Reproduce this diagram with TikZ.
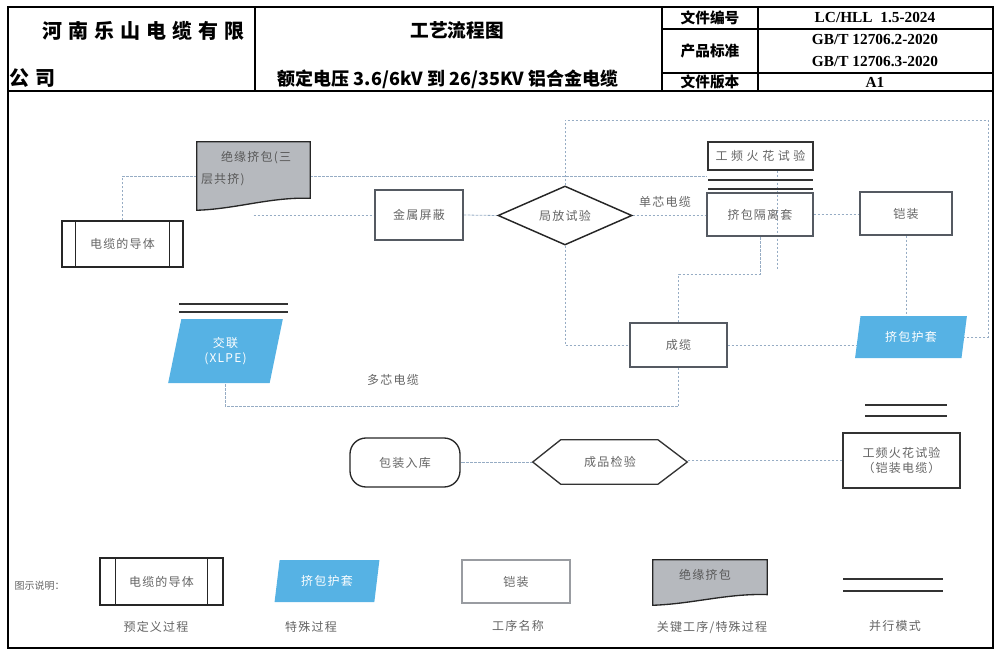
\documentclass[tikz,border=0pt]{standalone}
\usepackage{fontspec}
\setmainfont{Noto Sans CJK SC}
\newfontfamily\hdfont[LetterSpace=30]{Noto Sans CJK SC}
\newfontfamily\bodyfont[LetterSpace=10]{Noto Sans CJK SC}
\newfontfamily\spkfont[LetterSpace=30]{Noto Sans CJK SC}
\newfontfamily\numfont{Liberation Serif}
\usetikzlibrary{shapes.geometric,backgrounds}
\definecolor{skyfill}{RGB}{86,178,228}
\definecolor{docgray}{RGB}{182,185,190}
\definecolor{connblue}{RGB}{150,172,196}
\definecolor{boxline}{RGB}{85,90,98}
\definecolor{txtgray}{RGB}{100,100,100}
\begin{document}
\begin{tikzpicture}[x=0.75pt,y=-0.75pt,
  every node/.style={text=txtgray, font=\bodyfont\fontsize{9}{11}\selectfont, inner sep=1pt},
  procbox/.style={draw=boxline, line width=.9pt},
  predef/.style={draw=black!85, line width=1pt},
  special/.style={trapezium, trapezium left angle=76, trapezium right angle=104,
    trapezium stretches=true, fill=skyfill, text=white, inner sep=0pt},
  conn/.style={draw=connblue, line width=.6pt, dash pattern=on 2pt off 1pt},
  twin/.style={draw=black!80, line width=1.1pt},
  hd/.style={text=black, font=\bfseries\fontsize{11}{13}\selectfont}]
\useasboundingbox (0,0) rectangle (997,653);

% frame and header
\draw[line width=1pt] (8,7) rectangle (993,648);
\draw[line width=1pt] (8,91) -- (993,91);
\draw[line width=.8pt] (255,7) -- (255,91) (662,7) -- (662,91) (758,7) -- (758,91)
  (662,29) -- (993,29) (662,73) -- (993,73);
\node[hd, font=\hdfont\bfseries\fontsize{15}{18}\selectfont, anchor=west] (corp1) at (41,31) {河南乐山电缆有限};
\node[hd, font=\hdfont\bfseries\fontsize{15}{18}\selectfont, anchor=west] (corp2) at (8,78) {公司};
\node[hd, font=\bfseries\fontsize{14}{16}\selectfont] (ttl) at (457,30) {工艺流程图};
\node[hd, font=\bfseries\fontsize{13.5}{16}\selectfont] (sub) at (448,79) {额定电压 3.6/6kV 到 26/35KV 铝合金电缆};
\node[hd] (k1) at (710,18) {文件编号};
\node[hd] (k2) at (710,51) {产品标准};
\node[hd] (k3) at (710,82) {文件版本};
\node[hd, font=\numfont\bfseries\fontsize{11.5}{13}\selectfont] (v1) at (875,18) {LC/HLL\ \ 1.5-2024};
\node[hd, font=\numfont\bfseries\fontsize{11.5}{13}\selectfont] (v2) at (875,40) {GB/T 12706.2-2020};
\node[hd, font=\numfont\bfseries\fontsize{11.5}{13}\selectfont] (v3) at (875,62) {GB/T 12706.3-2020};
\node[hd, font=\numfont\bfseries\fontsize{11.5}{13}\selectfont] (v4) at (875,82) {A1};

% flow
\node[predef, minimum width=90.75pt, minimum height=34.5pt] (dt) at (122.5,244) {电缆的导体};
\draw[predef] ([xshift=10.5pt]dt.north west) -- ([xshift=10.5pt]dt.south west);
\draw[predef] ([xshift=-10.5pt]dt.north east) -- ([xshift=-10.5pt]dt.south east);
\node[minimum width=84.75pt, minimum height=51pt, inner sep=0pt] (jy) at (253.5,176) {};
\node[anchor=north west, align=left, text=black!65, font=\bodyfont\fontsize{9}{16.5}\selectfont]
  (jytxt) at ([xshift=2pt,yshift=-6pt]jy.north west) {\hspace{15pt}绝缘挤包(三\\层共挤)};
\node[procbox, minimum width=66pt, minimum height=37.5pt] (jspb) at (419,215) {金属屏蔽};
\node[diamond, aspect=2.27, draw=black!85, line width=1.1pt, minimum width=100.5pt,
  minimum height=44.25pt, inner sep=0pt] (jf) at (565,215.5) {局放试验};
\node (dx) at (665,202) {单芯电缆};
\node[procbox, draw=black!80, minimum width=78.75pt, minimum height=21pt,
  font=\spkfont\fontsize{9}{11}\selectfont] (gp1) at (760.5,156) {工频火花试验};
\draw[twin] (708,180) -- (813,180) (708,189) -- (813,189);
\node[procbox, minimum width=79.5pt, minimum height=32.25pt] (jbg) at (760,214.5) {挤包隔离套};
\node[procbox, minimum width=69pt, minimum height=32.25pt] (kz) at (906,213.5) {铠装};
\draw[twin] (179,304) -- (288,304) (179,312) -- (288,312);
\node[special, trapezium left angle=77, trapezium right angle=103, minimum width=86.25pt,
  minimum height=48pt, align=center] (jl) at (225.5,351) {交联\\(XLPE)};
\node[procbox, minimum width=72.75pt, minimum height=33pt] (cl) at (678.5,345) {成缆};
\node[special, minimum width=84pt, minimum height=31.5pt] (hut) at (911,337) {挤包护套};
\node (dd) at (393,380) {多芯电缆};
\draw[twin] (865,405) -- (947,405) (865,416) -- (947,416);
\node[procbox, draw=black!80, minimum width=87.75pt, minimum height=41.25pt, align=center]
  (gpk) at (901.5,460.5) {工频火花试验\\（铠装电缆）};
\node[minimum width=115.5pt, minimum height=33pt] (cpjy) at (610,462) {成品检验};
\draw[draw=black!80, line width=1pt] (cpjy.west) -- ([xshift=21pt]cpjy.north west)
  -- ([xshift=-22pt]cpjy.north east) -- (cpjy.east) -- ([xshift=-22pt]cpjy.south east)
  -- ([xshift=21pt]cpjy.south west) -- cycle;
\node[draw=black!85, line width=1pt, rounded corners=12pt, minimum width=82.5pt,
  minimum height=36.75pt] (bz) at (405,462.5) {包装入库};

% legend
\node[anchor=west, font=\fontsize{7.5}{9}\selectfont] (lgt) at (13,586) {图示说明：};
\node[predef, minimum width=92.25pt, minimum height=35.25pt] (lgdt) at (161.5,581.5) {电缆的导体};
\draw[predef] ([xshift=12pt]lgdt.north west) -- ([xshift=12pt]lgdt.south west);
\draw[predef] ([xshift=-12pt]lgdt.north east) -- ([xshift=-12pt]lgdt.south east);
\node (lgdtl) at (156,627) {预定义过程};
\node[special, minimum width=78.75pt, minimum height=31.5pt] (lgsp) at (327,581) {挤包护套};
\node (lgspl) at (311,627) {特殊过程};
\node[procbox, draw=boxline!60, minimum width=81pt, minimum height=32.25pt] (lgbox) at (516,581.5) {铠装};
\node (lgboxl) at (518,626) {工序名称};
\node[minimum width=85.5pt, minimum height=33.75pt, inner sep=0pt] (lgdoc) at (710,582.5) {};
\node[text=black!65] (lgdoct) at (705,575) {绝缘挤包};
\node (lgdocl) at (712,627) {关键工序/特殊过程};
\draw[twin] (843,579) -- (943,579) (843,591) -- (943,591);
\node (lgtwl) at (895,626) {并行模式};

\begin{scope}[on background layer]
\coordinate (tr) at (988,120);
\draw[conn] (dt.north) |- (jy.west);
\draw[conn] (jy.east) -- (jy.east -| gp1.west);
\draw[conn] (jy.south |- jspb.west) -- (jspb.west);
\draw[conn] (jspb.east) -- (jf.west);
\draw[conn] (jf.east) -- (jf.east -| jbg.west);
\draw[conn] (jbg.east) -- (jbg.east -| kz.west);
\draw[conn] (jf.north) |- (tr) |- (hut.east);
\draw[conn] (kz.south) -- (kz.south |- hut.north);
\draw[conn] (jf.south) |- (cl.west);
\draw[conn] (cl.east) -- (cl.east -| hut.west);
\draw[conn] (cl.north) -- ++(0,-48) -| (jbg.south);
\draw[conn] ([xshift=12.75pt]gp1.south) -- ++(0,98);
\draw[conn] (cl.south) -- ++(0,39) -| (jl.south);
\draw[conn] (gpk.west) -- (gpk.west -| cpjy.east);
\draw[conn] (cpjy.west) -- (cpjy.west -| bz.east);
\path[fill=docgray, draw=black!85, line width=1pt] (jy.north west) -- (jy.north east)
  -- ([yshift=9pt]jy.south east) .. controls ([xshift=-30pt,yshift=10pt]jy.south east)
  and ([xshift=30pt,yshift=1pt]jy.south west) .. (jy.south west) -- cycle;
\path[fill=docgray, draw=black!85, line width=1pt] (lgdoc.north west) -- (lgdoc.north east)
  -- ([yshift=8pt]lgdoc.south east) .. controls ([xshift=-30pt,yshift=9pt]lgdoc.south east)
  and ([xshift=30pt,yshift=1pt]lgdoc.south west) .. (lgdoc.south west) -- cycle;
\end{scope}
\end{tikzpicture}
\end{document}
